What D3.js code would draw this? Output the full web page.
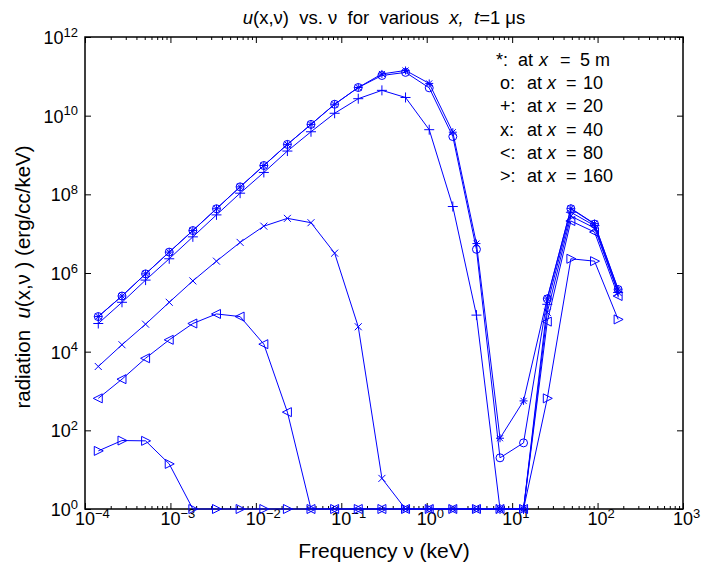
<!DOCTYPE html>
<html>
<head>
<meta charset="utf-8">
<script src="https://cdn.jsdelivr.net/npm/d3@7"></script>
<style>
  body { margin: 0; background: #fff; }
  text { font-family: "Liberation Sans", Arial, sans-serif; fill: #000; }
</style>
</head>
<body>
<div class="chart"></div>
<script>
/* Frequencies (keV) of the sampled points */
const freq = [1.43e-4, 2.71e-4, 5.12e-4, 9.68e-4, 1.83e-3, 3.46e-3, 6.54e-3, 1.24e-2,
              2.34e-2, 4.42e-2, 8.36e-2, 0.158, 0.299, 0.565, 1.07, 2.02, 3.82, 7.21,
              13.6, 25.8, 48.7, 92.1, 174];

/* radiation u(x,nu) for each distance x */
const at5 = [7.8e4, 2.6e5, 9.5e5, 3.4e6, 1.2e7, 4.3e7, 1.55e8, 5.4e8, 1.86e9, 6.0e9,
             1.95e10, 5.2e10, 1.15e11, 1.41e11, 6.6e10, 3.8e9, 5.6e6, 63, 560,
             2.3e5, 4.4e7, 1.8e7, 3.9e5];
const at10 = [7.8e4, 2.6e5, 9.5e5, 3.4e6, 1.2e7, 4.3e7, 1.55e8, 5.4e8, 1.86e9, 6.0e9,
              1.95e10, 5.2e10, 1.05e11, 1.26e11, 5.1e10, 2.95e9, 4.0e6, 20, 48,
              2.2e5, 4.3e7, 1.75e7, 3.8e5];
const at20 = [5.2e4, 1.8e5, 6.6e5, 2.3e6, 8.3e6, 3.0e7, 1.07e8, 3.6e8, 1.26e9, 3.9e9,
              1.15e10, 2.7e10, 4.4e10, 2.9e10, 4.4e9, 4.9e7, 8.5e4, 1, 1,
              1.6e5, 3.5e7, 1.6e7, 3.2e5];
const at40 = [4.2e3, 1.5e4, 5.0e4, 1.8e5, 6.3e5, 2.0e6, 6.0e6, 1.55e7, 2.45e7, 1.9e7,
              3.2e6, 4.3e4, 6, 1, 1, 1, 1, 1, 1,
              1.0e5, 2.8e7, 1.4e7, 3.2e5];
const at80 = [650, 2.0e3, 6.8e3, 2.0e4, 5.2e4, 9.1e4, 7.8e4, 1.55e4, 290, 1,
              1, 1, 1, 1, 1, 1, 1, 1, 1,
              5.8e4, 2.1e7, 1.1e7, 2.6e5];
const at160 = [30, 55, 54, 14, 1, 1, 1, 1, 1, 1,
               1, 1, 1, 1, 1, 1, 1, 1, 1,
               650, 2.3e6, 2.0e6, 6.6e4];

const seriesValues = [at5, at10, at20, at40, at80, at160];
const symbols = ["*", "o", "+", "x", "<", ">"];
const distLabels = ["5 m", "10", "20", "40", "80", "160"];

const xTickExp = [-4, -3, -2, -1, 0, 1, 2, 3];
const yTickExp = [0, 2, 4, 6, 8, 10, 12];

const w = 705, h = 566;
const padL = 85, padR = 683, padT = 37, padB = 509;
const blue = "#0000ff";

const x = d3.scaleLog().domain([1e-4, 1e3]).range([padL, padR]);
const y = d3.scaleLog().domain([1, 1e12]).range([padB, padT]);

const svg = d3.select(".chart").append("svg")
  .attr("width", w).attr("height", h);

/* axes: ticks pointing inward on all four sides */
const minor = x.ticks().filter(v => !xTickExp.some(e => Math.abs(Math.log10(v) - e) < 1e-9));
const majorX = xTickExp.map(e => Math.pow(10, e));
const majorY = yTickExp.map(e => Math.pow(10, e));

const axes = [
  [d3.axisBottom(x).tickValues(majorX).tickSize(-6), `translate(0,${padB})`],
  [d3.axisBottom(x).tickValues(minor).tickSize(-3), `translate(0,${padB})`],
  [d3.axisTop(x).tickValues(majorX).tickSize(-6), `translate(0,${padT})`],
  [d3.axisTop(x).tickValues(minor).tickSize(-3), `translate(0,${padT})`],
  [d3.axisLeft(y).tickValues(majorY).tickSize(-6), `translate(${padL},0)`],
  [d3.axisRight(y).tickValues(majorY).tickSize(-6), `translate(${padR},0)`]
];
axes.forEach(([ax, tr]) => {
  const g = svg.append("g").attr("transform", tr).call(ax.tickFormat(""));
  g.select(".domain").remove();
  g.selectAll("line").attr("stroke", "#000").attr("stroke-width", 1);
});

svg.append("rect")
  .attr("x", padL).attr("y", padT)
  .attr("width", padR - padL).attr("height", padB - padT)
  .attr("fill", "none").attr("stroke", "#000").attr("stroke-width", 1.5);

/* tick labels as 10^n */
const fmtExp = e => (e < 0 ? "\u2212" + (-e) : "" + e);

xTickExp.forEach(e => {
  const t = svg.append("text")
    .attr("x", x(Math.pow(10, e)) - 10)
    .attr("y", 525)
    .attr("font-size", 18);
  t.append("tspan").text("10");
  t.append("tspan").attr("dy", -7.5).attr("font-size", 13).text(fmtExp(e));
});

yTickExp.forEach(e => {
  const t = svg.append("text")
    .attr("x", 78)
    .attr("y", y(Math.pow(10, e)) + 7)
    .attr("text-anchor", "end")
    .attr("font-size", 18);
  t.append("tspan").text("10");
  t.append("tspan").attr("dy", -7.5).attr("font-size", 13).text(fmtExp(e));
});

/* lines */
const line = d3.line()
  .x((d, i) => x(freq[i]))
  .y(d => y(d));

seriesValues.forEach(vals => {
  svg.append("path")
    .datum(vals)
    .attr("d", line)
    .attr("fill", "none")
    .attr("stroke", blue)
    .attr("stroke-width", 1);
});

/* markers */
const markerPath = (s) => {
  switch (s) {
    case "*": return "M-4,0H4M0,-4V4M-3,-3L3,3M-3,3L3,-3";
    case "+": return "M-5,0H5M0,-5V5";
    case "x": return "M-3.5,-3.5L3.5,3.5M-3.5,3.5L3.5,-3.5";
    case "<": return "M-5,0L4,-4.5L4,4.5Z";
    case ">": return "M5,0L-4,-4.5L-4,4.5Z";
    default: return "";
  }
};

seriesValues.forEach((vals, si) => {
  const s = symbols[si];
  const g = svg.append("g");
  if (s === "o") {
    g.selectAll("circle").data(vals).enter().append("circle")
      .attr("cx", (d, i) => x(freq[i]))
      .attr("cy", d => y(d))
      .attr("r", 4)
      .attr("fill", "none")
      .attr("stroke", blue);
  } else {
    g.selectAll("path").data(vals).enter().append("path")
      .attr("transform", (d, i) => `translate(${x(freq[i])},${y(d)})`)
      .attr("d", markerPath(s))
      .attr("fill", "none")
      .attr("stroke", blue)
      .attr("stroke-width", 1);
  }
});

/* legend text */
symbols.forEach((s, i) => {
  const first = i === 0;
  const yy = 66 + i * 23.2;
  const cols = first ? [496, 518, 539, 560, 580] : [500, 527, 547, 566, 583];
  const t = svg.append("text").attr("y", yy).attr("font-size", 18);
  t.append("tspan").attr("x", cols[0]).text(s + ":");
  t.append("tspan").attr("x", cols[1]).text("at");
  t.append("tspan").attr("x", cols[2]).attr("font-style", "italic").text("x");
  t.append("tspan").attr("x", cols[3]).text("=");
  t.append("tspan").attr("x", cols[4]).text(distLabels[i]);
});

/* title */
const title = svg.append("text")
  .attr("x", 384).attr("y", 24)
  .attr("text-anchor", "middle")
  .attr("font-size", 18.5)
  .attr("xml:space", "preserve")
  .style("white-space", "pre");
title.append("tspan").attr("font-style", "italic").text("u");
title.append("tspan").text("(x,\u03bd)  vs. \u03bd  for  various  ");
title.append("tspan").attr("font-style", "italic").text("x,");
title.append("tspan").text("  ");
title.append("tspan").attr("font-style", "italic").text("t");
title.append("tspan").text("=1 \u03bcs");

/* axis labels */
svg.append("text")
  .attr("x", 384).attr("y", 558)
  .attr("text-anchor", "middle")
  .attr("font-size", 21)
  .text("Frequency \u03bd (keV)");

const ylab = svg.append("text")
  .attr("transform", "translate(30,277) rotate(-90)")
  .attr("text-anchor", "middle")
  .attr("font-size", 20.5)
  .attr("xml:space", "preserve")
  .style("white-space", "pre");
ylab.append("tspan").text("radiation  ");
ylab.append("tspan").attr("font-style", "italic").text("u");
ylab.append("tspan").text("(x,\u03bd ) (erg/cc/keV)");
</script>
</body>
</html>
